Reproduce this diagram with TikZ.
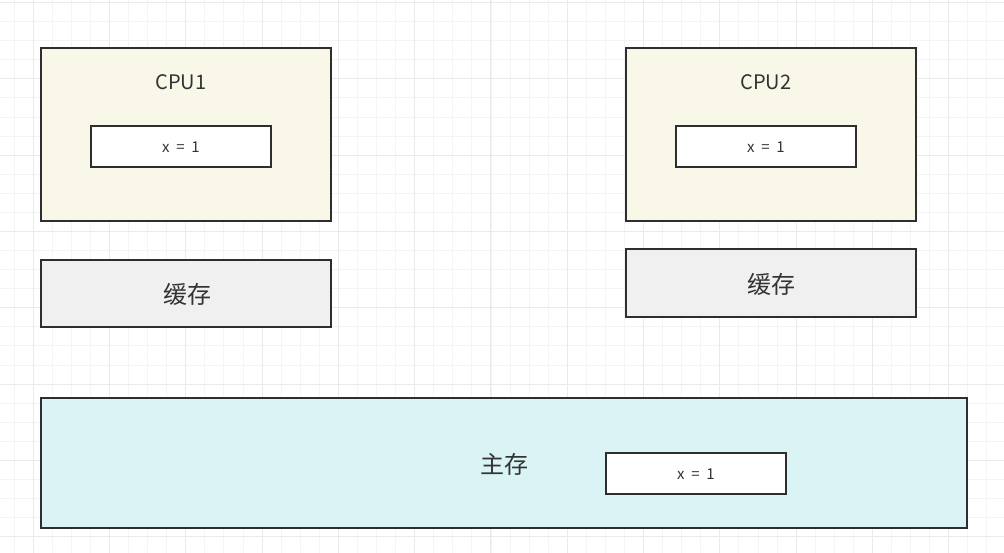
\documentclass[tikz,border=0pt]{standalone}
\usepackage{fontspec}
\setmainfont{Noto Sans CJK SC}
\newfontfamily\cjk{Noto Sans CJK SC}
\definecolor{cpufill}{HTML}{F9F7E8}
\definecolor{cachefill}{HTML}{F0F0F0}
\definecolor{memfill}{HTML}{DAF4F5}
\definecolor{edge}{HTML}{2E2E2E}
\definecolor{txt}{HTML}{333333}
\definecolor{gridminor}{HTML}{F4F4F4}
\definecolor{gridmajor}{HTML}{EAEAEA}
\tikzset{
  box/.style={draw=edge, line width=1.3pt, inner sep=0pt, outer sep=0pt},
  cpubox/.style={box, fill=cpufill},
  cachebox/.style={box, fill=cachefill},
  membox/.style={box, fill=memfill},
  valbox/.style={box, fill=white},
  lbl/.style={text=txt, inner sep=0pt},
  vallbl/.style={lbl, font=\fontsize{15}{18}\selectfont},
}
\newcommand{\xval}{x\hspace{0.45em}=\hspace{0.45em}1}
\begin{document}
\begin{tikzpicture}[x=1pt,y=-1pt]
\useasboundingbox (0,0) rectangle (1004,553);
\fill[white] (0,0) rectangle (1004,553);
% grid
\foreach \i in {-2,...,52} {
  \draw[gridminor, line width=0.8pt] ({33.1+19.075*\i},0) -- ({33.1+19.075*\i},553);
}
\foreach \j in {-1,...,29} {
  \draw[gridminor, line width=0.8pt] (0,{2.5+19.075*\j}) -- (1004,{2.5+19.075*\j});
}
\foreach \i in {-1,...,13} {
  \draw[gridmajor, line width=0.9pt] ({33.1+76.3*\i},0) -- ({33.1+76.3*\i},553);
}
\foreach \j in {0,...,7} {
  \draw[gridmajor, line width=0.9pt] (0,{2.5+76.3*\j}) -- (1004,{2.5+76.3*\j});
}
% CPU1
\draw[cpubox] (41,48) rectangle (331,221);
\node[lbl, font=\fontsize{20}{24}\selectfont] (cpu1) at (181,82) {CPU1};
\draw[valbox] (91,126) rectangle (271,167);
\node[vallbl] (v1) at (181,147) {\xval};
% cache 1
\draw[cachebox] (41,260) rectangle (331,327);
\node[lbl, font=\fontsize{24}{28}\selectfont\cjk] (c1) at (187,294) {缓存};
% CPU2
\draw[cpubox] (626,48) rectangle (916,221);
\node[lbl, font=\fontsize{20}{24}\selectfont] (cpu2) at (766,82) {CPU2};
\draw[valbox] (676,126) rectangle (856,167);
\node[vallbl] (v2) at (766,147) {\xval};
% cache 2
\draw[cachebox] (626,249) rectangle (916,317);
\node[lbl, font=\fontsize{24}{28}\selectfont\cjk] (c2) at (771,284) {缓存};
% main memory
\draw[membox] (41,398) rectangle (967,528);
\node[lbl, font=\fontsize{24}{28}\selectfont\cjk] (mm) at (504,464) {主存};
\draw[valbox] (606,453) rectangle (786,494);
\node[vallbl] (v3) at (696,474) {\xval};
\end{tikzpicture}
\end{document}
